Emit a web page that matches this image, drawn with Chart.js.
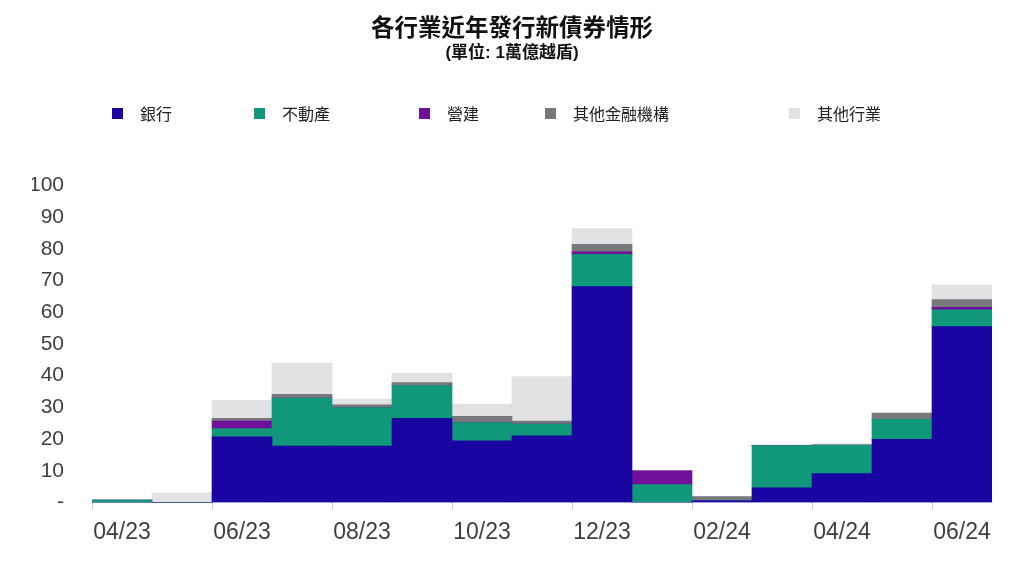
<!DOCTYPE html>
<html>
<head>
<meta charset="utf-8">
<script src="https://cdn.jsdelivr.net/npm/chart.js@4"></script>
<style>
    body { margin: 0; background: #fff; }
    #wrap { position: relative; width: 1024px; height: 568px; }
    #legend { position: absolute; top: 0; left: 0; width: 1024px; height: 0; }
    .item { position: absolute; top: 101px; display: flex; align-items: center; font: 16px 'Noto Sans CJK TC', sans-serif; color: #222; }
    .item span.box { width: 11px; height: 11px; margin-right: 17px; }
</style>
</head>
<body>
<div id="wrap">
    <canvas id="bondChart" width="1024" height="568"></canvas>
    <div id="legend"></div>
</div>
<script>
Chart.defaults.font.family = "'Liberation Sans', 'Noto Sans CJK TC', sans-serif";
Chart.defaults.color = '#404040';

// months, 04/23 .. 06/24
const months = ['04/23', '05/23', '06/23', '07/23', '08/23', '09/23', '10/23', '11/23',
    '12/23', '01/24', '02/24', '03/24', '04/24', '05/24', '06/24'];

// values in 1000 bn VND
const banks = [0, 0, 20.7, 17.8, 17.8, 26.5, 19.4, 21.0, 68.1, 0, 0.5, 4.6, 9.1, 19.9, 55.5];
const realEstate = [0.7, 0, 2.6, 15.1, 12.1, 10.4, 5.8, 3.7, 10.2, 5.6, 0, 13.3, 9.0, 6.3, 5.3];
const construction = [0, 0, 2.4, 0, 0, 0, 0, 0, 0.8, 4.4, 0, 0, 0, 0, 0.8];
const otherFinance = [0, 0, 0.8, 1.2, 0.9, 0.9, 2.0, 1.0, 2.4, 0, 1.3, 0, 0, 2.0, 2.4];
const otherIndustry = [0, 3.0, 5.7, 9.9, 1.8, 3.0, 3.8, 14.0, 4.9, 0, 0, 0.3, 0.3, 0, 4.7];

const seriesNames = ['銀行', '不動產', '營建', '其他金融機構', '其他行業'];
const seriesColors = ['#1a05a3', '#11977a', '#6e109a', '#77777c', '#e2e2e5'];
const legendLeft = [112, 254, 419, 545, 789];

const seriesData = [banks, realEstate, construction, otherFinance, otherIndustry];

const datasets = seriesNames.map((name, i) => ({
    label: name,
    data: seriesData[i],
    backgroundColor: seriesColors[i],
    borderWidth: 0,
    barPercentage: 1,
    categoryPercentage: 1
}));

new Chart(document.getElementById('bondChart'), {
    type: 'bar',
    data: { labels: months, datasets },
    options: {
        responsive: false,
        animation: false,
        layout: { padding: { left: 32, right: 32, top: 0, bottom: 13 } },
        plugins: {
            legend: { display: false },
            tooltip: { enabled: false },
            title: {
                display: true,
                text: '各行業近年發行新債券情形',
                color: '#111',
                font: { family: "'Noto Sans CJK TC', sans-serif", size: 23.5, weight: 'bold' },
                padding: { top: 13, bottom: 1 }
            },
            subtitle: {
                display: true,
                text: '(單位: 1萬億越盾)',
                color: '#111',
                font: { size: 17, weight: 'bold' },
                padding: { top: 1, bottom: 122 }
            }
        },
        scales: {
            x: {
                stacked: true,
                grid: {
                    drawOnChartArea: false,
                    tickLength: 7,
                    color: ctx => ctx.index % 2 === 0 ? '#cfcfd4' : 'rgba(0,0,0,0)'
                },
                border: { display: false },
                ticks: {
                    autoSkip: false,
                    maxRotation: 0,
                    padding: 9,
                    font: { size: 23 },
                    callback: (v, i) => i % 2 === 0 ? months[i] : ''
                }
            },
            y: {
                stacked: true,
                min: 0,
                max: 100,
                afterFit: scale => { scale.width = 60; },
                grid: { display: false, drawTicks: false },
                border: { display: false },
                ticks: {
                    stepSize: 10,
                    padding: 28,
                    font: { size: 21 },
                    callback: v => v === 0 ? '-' : v
                }
            }
        }
    }
});

// html legend with the original uneven spacing
const legend = document.getElementById('legend');
seriesNames.forEach((name, i) => {
    const item = document.createElement('div');
    item.className = 'item';
    item.style.left = legendLeft[i] + 'px';
    item.innerHTML = `<span class="box" style="background:${seriesColors[i]}"></span>${name}`;
    legend.appendChild(item);
});
</script>
</body>
</html>
